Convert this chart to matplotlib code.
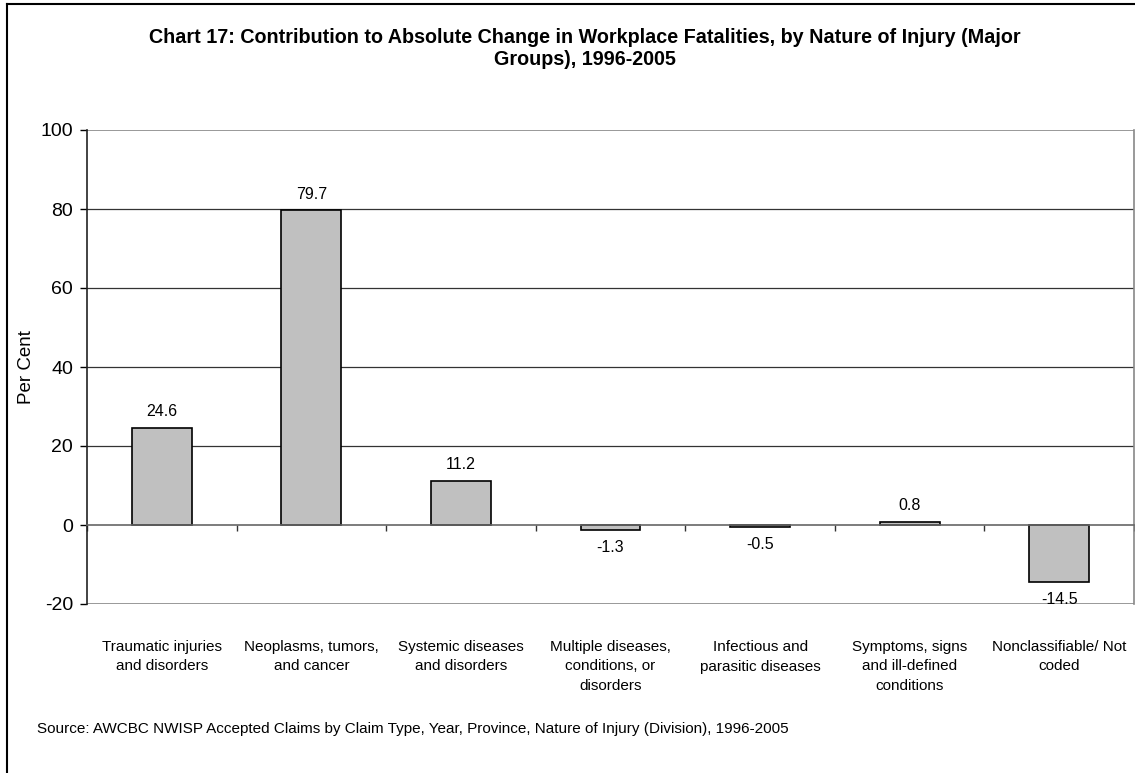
import numpy as np
import matplotlib
matplotlib.use("Agg")
import matplotlib.pyplot as plt
from matplotlib.lines import Line2D
from matplotlib.transforms import blended_transform_factory

plt.rcParams['font.family'] = ['Liberation Sans', 'DejaVu Sans']
plt.rcParams['axes.unicode_minus'] = False

categories = [
    "Traumatic injuries\nand disorders",
    "Neoplasms, tumors,\nand cancer",
    "Systemic diseases\nand disorders",
    "Multiple diseases,\nconditions, or\ndisorders",
    "Infectious and\nparasitic diseases",
    "Symptoms, signs\nand ill-defined\nconditions",
    "Nonclassifiable/ Not\ncoded",
]
values = [24.6, 79.7, 11.2, -1.3, -0.5, 0.8, -14.5]
y_ticks = [-20, 0, 20, 40, 60, 80, 100]

title = ("Chart 17: Contribution to Absolute Change in Workplace Fatalities, by Nature of Injury (Major\n"
         "Groups), 1996-2005")
source = "Source: AWCBC NWISP Accepted Claims by Claim Type, Year, Province, Nature of Injury (Division), 1996-2005"

W, H = 1135, 773
fig = plt.figure(figsize=(W / 100, H / 100), dpi=100)
ax = fig.add_axes([87 / W, 1 - 604 / H, (1134 - 87) / W, (604 - 130) / H])

x = np.arange(len(values))
ax.bar(x, values, width=0.4, color='#c0c0c0', edgecolor='black', linewidth=1.2, zorder=3)

ax.set_xlim(-0.5, len(values) - 0.5)
ax.set_ylim(-20, 100)

# gridlines
for t in y_ticks[2:-1]:
    ax.axhline(t, color='#333333', lw=0.9, zorder=1)
ax.axhline(100, color='#888888', lw=1.2, zorder=1)
ax.axhline(-20, color='#888888', lw=1.2, zorder=1)

# spines
ax.spines['top'].set_visible(False)
ax.spines['right'].set_color('#888888')
ax.spines['right'].set_linewidth(1.2)
ax.spines['left'].set_color('#222222')
ax.spines['left'].set_linewidth(1.2)
ax.spines['bottom'].set_position(('data', 0))
ax.spines['bottom'].set_color('#666666')
ax.spines['bottom'].set_linewidth(1.2)
ax.spines['bottom'].set_zorder(4)

ax.set_yticks(y_ticks)
ax.tick_params(axis='y', direction='out', length=5, width=1, labelsize=14, pad=5)
ax.set_xticks(np.arange(len(values) + 1) - 0.5)
ax.set_xticklabels([])
ax.tick_params(axis='x', direction='out', length=4, width=1, color='#333333')
ax.set_ylabel("Per Cent", fontsize=13.5, labelpad=4)

# value labels
for xi, v in zip(x, values):
    off = 11.5 if v >= 0 else -12.5
    ax.annotate(f"{v:.1f}", (xi, v), xytext=(0, off), textcoords='offset points',
                ha='center', va='center', fontsize=11.5)

# category labels below the plot area
trans = blended_transform_factory(ax.transData, fig.transFigure)
for xi, lab in zip(x, categories):
    ax.text(xi, 1 - 640 / H, lab, transform=trans, ha='center', va='top',
            fontsize=11, linespacing=1.5, clip_on=False)

fig.text(585 / W, 1 - 48.5 / H, title, ha='center', va='center', fontsize=14.2,
         fontweight='bold', linespacing=1.2)
fig.text(37 / W, 1 - 729 / H, source, ha='left', va='center', fontsize=11)

# outer chart border
fig.add_artist(Line2D([7 / W, 7 / W], [0, 1 - 4 / H], color='black', lw=1.5, transform=fig.transFigure))
fig.add_artist(Line2D([7 / W, 1], [1 - 4 / H, 1 - 4 / H], color='black', lw=1.5, transform=fig.transFigure))

fig.savefig("out.png", dpi=100)
